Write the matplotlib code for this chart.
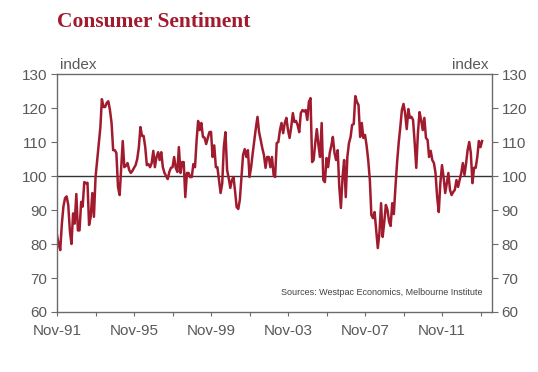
#!/usr/bin/env python
# -*-coding:utf-8-*-
""""""
import numpy as np
import pandas as pd
import matplotlib
matplotlib.use('Agg')
import matplotlib.pyplot as plt
import matplotlib.dates as mdates

# monthly index, Nov-91 onwards
start_month = '1991-11-01'
sentiment = [
    82.6, 80.0, 78.2, 86.0, 91.0, 93.5, 94.0, 91.5, 84.0, 80.0, 89.0, 86.0,
    94.7, 84.0, 84.0, 92.4, 91.0, 98.2, 97.9, 98.0, 85.6, 88.0, 95.0, 88.0,
    99.7, 104.5, 109.7, 114.4, 122.6, 120.3, 120.3, 121.5, 122.0, 119.4, 115.6, 107.6,
    107.6, 106.8, 96.8, 94.4, 101.8, 110.3, 102.6, 103.0, 103.8, 101.8, 100.9, 101.5,
    102.4, 103.2, 105.0, 108.5, 114.4, 111.8, 111.8, 108.5, 103.2, 103.5, 102.6, 103.8,
    107.4, 102.6, 105.6, 107.0, 104.7, 107.0, 102.6, 100.9, 100.0, 99.1, 101.2, 102.4,
    102.6, 105.6, 102.4, 101.2, 108.5, 100.9, 104.1, 104.1, 93.8, 100.9, 100.9, 99.7,
    99.7, 103.5, 102.6, 110.6, 116.2, 113.5, 115.6, 111.5, 111.3, 109.4, 111.2, 112.9,
    113.0, 105.6, 109.0, 102.6, 102.6, 98.8, 95.0, 97.9, 108.5, 112.9, 101.8, 99.4,
    96.5, 98.8, 99.7, 95.3, 90.9, 90.3, 93.0, 99.7, 106.2, 107.9, 105.6, 107.6,
    99.7, 102.6, 106.8, 110.6, 114.1, 117.4, 112.9, 110.6, 108.2, 106.2, 102.4, 105.6,
    105.6, 102.6, 105.6, 100.3, 99.7, 109.7, 110.0, 113.5, 115.6, 112.6, 115.6, 117.1,
    113.5, 111.2, 114.4, 118.5, 115.9, 116.2, 115.0, 112.9, 118.5, 119.4, 119.0, 119.4,
    116.5, 121.8, 122.9, 104.1, 104.7, 109.7, 113.8, 109.0, 105.6, 115.6, 98.8, 98.2,
    105.3, 102.6, 106.8, 109.0, 111.5, 106.8, 104.7, 107.6, 96.8, 90.6, 99.7, 104.7,
    93.8, 105.6, 109.7, 111.5, 115.0, 115.3, 123.5, 121.8, 120.9, 111.5, 115.6, 111.2,
    112.1, 109.0, 104.7, 98.8, 88.5, 87.6, 89.4, 84.1, 78.8, 83.2, 92.0, 82.1,
    86.5, 91.5, 90.0, 86.5, 85.3, 92.0, 88.8, 96.8, 103.8, 109.7, 114.4, 119.4,
    121.2, 118.5, 113.8, 119.7, 117.1, 117.4, 116.5, 109.7, 102.4, 112.6, 118.8, 116.5,
    113.5, 117.1, 111.2, 110.6, 105.6, 107.4, 104.7, 103.8, 100.9, 93.8, 89.4, 97.9,
    103.2, 99.7, 95.0, 97.9, 100.9, 95.9, 94.4, 95.3, 95.9, 98.8, 96.8, 98.8,
    100.9, 103.8, 100.3, 103.8, 107.6, 110.0, 106.8, 97.9, 102.4, 102.4, 105.6, 110.3,
    108.5, 110.3,
]
y_ticks = [60, 70, 80, 90, 100, 110, 120, 130]
x_tick_dates = pd.date_range('1991-11-01', '2013-11-01', freq='24MS')
x_end = '2014-06-07'

line_color = '#a11b2f'
text_color = '#595959'

dates = pd.date_range(start_month, periods=len(sentiment), freq='MS')

plt.rcParams['font.family'] = ['Liberation Sans', 'DejaVu Sans']
fig = plt.figure(figsize=(5.38, 3.72), dpi=100)
ax = fig.add_axes([0.106, 0.1613, 0.8085, 0.6397])

ax.axhline(100, color='#333333', lw=1.0, zorder=1)
ax.plot(mdates.date2num(dates), sentiment, color=line_color, lw=1.8, zorder=2)

ax.set_ylim(60, 130)
ax.set_yticks(y_ticks)
ax.set_xlim(mdates.date2num(pd.Timestamp(start_month)), mdates.date2num(pd.Timestamp(x_end)))
ax.set_xticks(mdates.date2num(x_tick_dates))
ax.set_xticklabels([d.strftime('%b-%y') if i % 2 == 0 else '' for i, d in enumerate(x_tick_dates)])

for side in ['left', 'right', 'bottom', 'top']:
    ax.spines[side].set_color('#6b6b6b')
    ax.spines[side].set_linewidth(1.0)

ax.tick_params(axis='y', which='both', left=True, right=True, labelleft=True, labelright=True,
               direction='out', length=4, color='#6b6b6b', labelsize=11, labelcolor=text_color, pad=3)
ax.tick_params(axis='x', direction='out', length=3, color='#6b6b6b', labelsize=11,
               labelcolor=text_color, pad=6)

ax.text(0.007, 1.01, 'index', transform=ax.transAxes, ha='left', va='bottom',
        fontsize=11, color=text_color)
ax.text(0.993, 1.01, 'index', transform=ax.transAxes, ha='right', va='bottom',
        fontsize=11, color=text_color)
ax.text(0.979, 0.08, 'Sources: Westpac Economics, Melbourne Institute', transform=ax.transAxes,
        ha='right', va='center', fontsize=6.5, color='#404040')

fig.text(0.106, 1 - 27 / 372, 'Consumer Sentiment', ha='left', va='baseline',
         fontsize=15.5, fontweight='bold', color=line_color, family=['Liberation Serif'])

plt.savefig('out.png', dpi=100)
